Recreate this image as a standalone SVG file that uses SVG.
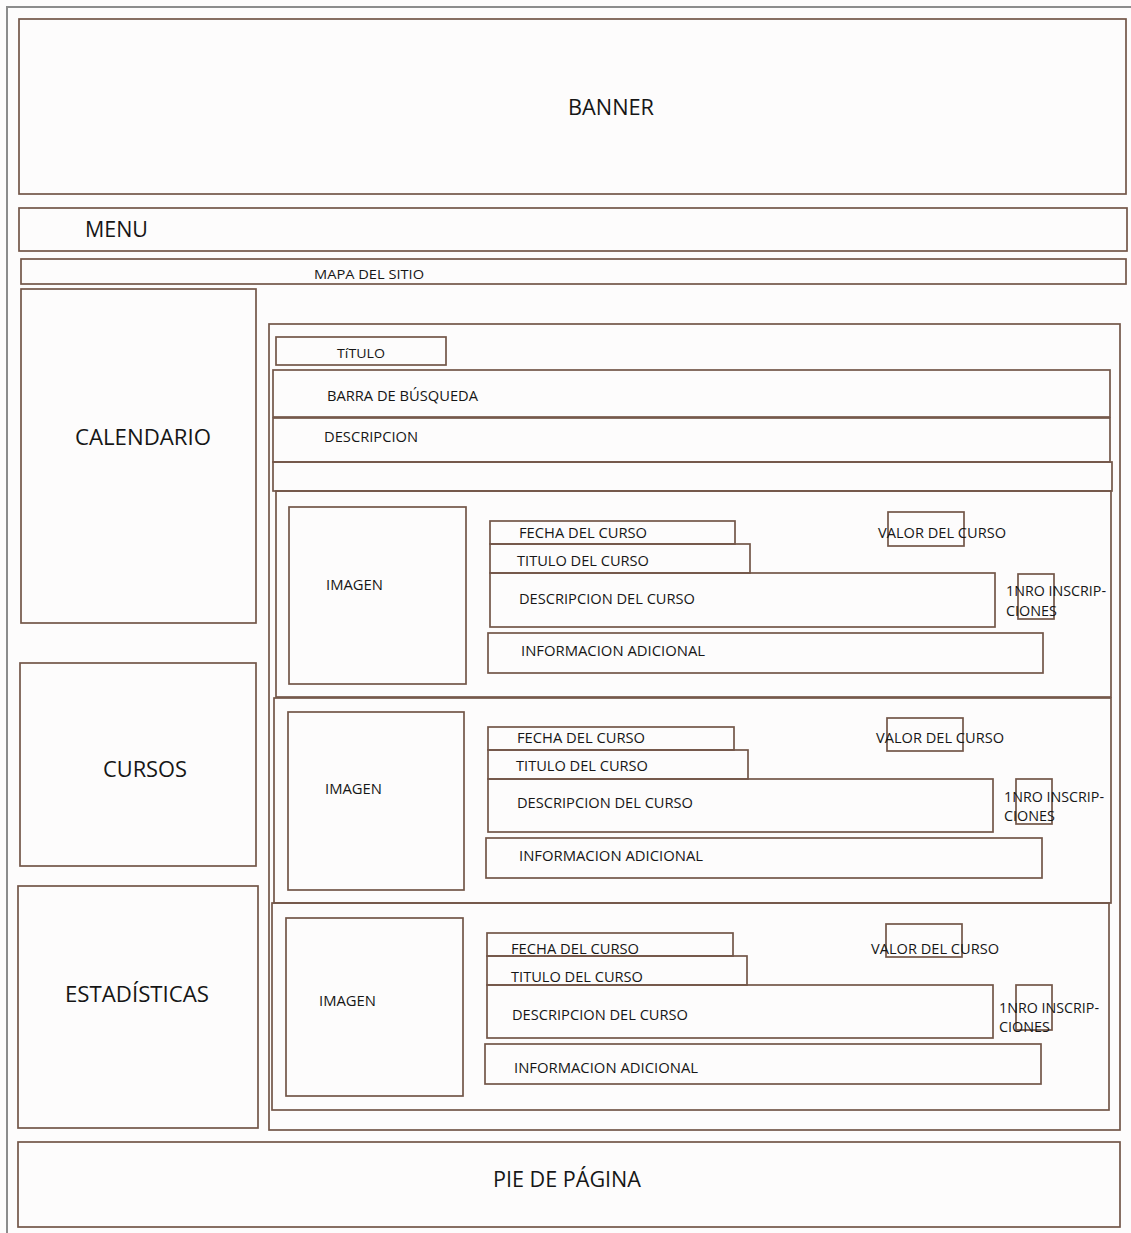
<svg xmlns="http://www.w3.org/2000/svg" width="1131" height="1233" viewBox="0 0 1131 1233">
<style>
.bg{fill:#fdfcfc}
.b{fill:none;stroke:#735648;stroke-width:1.7}
.t{font-family:"Open Sans","Liberation Sans",sans-serif;fill:#161616;font-size:14px}
.L{font-size:21px}
.S{font-size:13px}
</style>
<rect class="bg" x="0" y="0" width="1131" height="1233"/>
<path d="M7,1233 V7 H1131" fill="none" stroke="#8c8c8c" stroke-width="2"/>
<g id="banner"><rect class="b" x="19" y="19" width="1107" height="175"/><text class="t L" x="568" y="115" textLength="86" lengthAdjust="spacingAndGlyphs">BANNER</text></g>
<g id="menu"><rect class="b" x="19" y="208" width="1108" height="43"/><text class="t L" x="85" y="237" textLength="63" lengthAdjust="spacingAndGlyphs">MENU</text></g>
<g id="mapa"><rect class="b" x="21" y="259" width="1105" height="25"/><text class="t S" x="314" y="279" textLength="110" lengthAdjust="spacingAndGlyphs">MAPA DEL SITIO</text></g>
<g id="calendario"><rect class="b" x="21" y="289" width="235" height="334"/><text class="t L" x="75" y="445" textLength="136" lengthAdjust="spacingAndGlyphs">CALENDARIO</text></g>
<g id="cursos"><rect class="b" x="20" y="663" width="236" height="203"/><text class="t L" x="103" y="777" textLength="84" lengthAdjust="spacingAndGlyphs">CURSOS</text></g>
<g id="estadisticas"><rect class="b" x="18" y="886" width="240" height="242"/><text class="t L" x="65" y="1002" textLength="144" lengthAdjust="spacingAndGlyphs">ESTADÍSTICAS</text></g>
<g id="pie"><rect class="b" x="18" y="1142" width="1102" height="85"/><text class="t L" x="493" y="1187" textLength="148" lengthAdjust="spacingAndGlyphs">PIE DE PÁGINA</text></g>
<g id="contenido"><rect class="b" x="269" y="324" width="851" height="806"/></g>
<g id="titulo"><rect class="b" x="276" y="337" width="170" height="28"/><text class="t S" x="337" y="358" textLength="48" lengthAdjust="spacingAndGlyphs">TíTULO</text></g>
<g id="barra"><rect class="b" x="273" y="370" width="837" height="47"/><text class="t" x="327" y="401" textLength="151" lengthAdjust="spacingAndGlyphs">BARRA DE BÚSQUEDA</text></g>
<g id="descripcion"><rect class="b" x="273" y="418" width="837" height="44"/><text class="t" x="324" y="442" textLength="94" lengthAdjust="spacingAndGlyphs">DESCRIPCION</text></g>
<g id="vacio"><rect class="b" x="273" y="462" width="839" height="29"/></g>

<g id="curso1">
<rect class="b" x="276" y="491" width="835" height="206"/>
<rect class="b" x="289" y="507" width="177" height="177"/>
<text class="t" x="326" y="590" textLength="57" lengthAdjust="spacingAndGlyphs">IMAGEN</text>
<rect class="b" x="490" y="521" width="245" height="23"/>
<text class="t" x="519" y="538" textLength="128" lengthAdjust="spacingAndGlyphs">FECHA DEL CURSO</text>
<rect class="b" x="490" y="544" width="260" height="29"/>
<text class="t" x="517" y="566" textLength="132" lengthAdjust="spacingAndGlyphs">TITULO DEL CURSO</text>
<rect class="b" x="490" y="573" width="505" height="54"/>
<text class="t" x="519" y="604" textLength="176" lengthAdjust="spacingAndGlyphs">DESCRIPCION DEL CURSO</text>
<rect class="b" x="488" y="633" width="555" height="40"/>
<text class="t" x="521" y="656" textLength="184" lengthAdjust="spacingAndGlyphs">INFORMACION ADICIONAL</text>
<rect class="b" x="888" y="512" width="76" height="34"/>
<text class="t" x="878" y="538" textLength="128" lengthAdjust="spacingAndGlyphs">VALOR DEL CURSO</text>
<rect class="b" x="1018" y="574" width="36" height="45"/>
<text class="t" x="1006" y="596" textLength="100" lengthAdjust="spacingAndGlyphs">1NRO INSCRIP-</text>
<text class="t" x="1006" y="616" textLength="51" lengthAdjust="spacingAndGlyphs">CIONES</text>
</g>

<g id="curso2">
<rect class="b" x="274" y="698" width="837" height="205"/>
<rect class="b" x="288" y="712" width="176" height="178"/>
<text class="t" x="325" y="794" textLength="57" lengthAdjust="spacingAndGlyphs">IMAGEN</text>
<rect class="b" x="488" y="727" width="246" height="23"/>
<text class="t" x="517" y="743" textLength="128" lengthAdjust="spacingAndGlyphs">FECHA DEL CURSO</text>
<rect class="b" x="488" y="750" width="260" height="29"/>
<text class="t" x="516" y="771" textLength="132" lengthAdjust="spacingAndGlyphs">TITULO DEL CURSO</text>
<rect class="b" x="488" y="779" width="505" height="53"/>
<text class="t" x="517" y="808" textLength="176" lengthAdjust="spacingAndGlyphs">DESCRIPCION DEL CURSO</text>
<rect class="b" x="486" y="838" width="556" height="40"/>
<text class="t" x="519" y="861" textLength="184" lengthAdjust="spacingAndGlyphs">INFORMACION ADICIONAL</text>
<rect class="b" x="887" y="718" width="76" height="33"/>
<text class="t" x="876" y="743" textLength="128" lengthAdjust="spacingAndGlyphs">VALOR DEL CURSO</text>
<rect class="b" x="1016" y="779" width="36" height="45"/>
<text class="t" x="1004" y="802" textLength="100" lengthAdjust="spacingAndGlyphs">1NRO INSCRIP-</text>
<text class="t" x="1004" y="821" textLength="51" lengthAdjust="spacingAndGlyphs">CIONES</text>
</g>

<g id="curso3">
<rect class="b" x="272" y="903" width="837" height="207"/>
<rect class="b" x="286" y="918" width="177" height="178"/>
<text class="t" x="319" y="1006" textLength="57" lengthAdjust="spacingAndGlyphs">IMAGEN</text>
<rect class="b" x="487" y="933" width="246" height="23"/>
<text class="t" x="511" y="954" textLength="128" lengthAdjust="spacingAndGlyphs">FECHA DEL CURSO</text>
<rect class="b" x="487" y="956" width="260" height="29"/>
<text class="t" x="511" y="982" textLength="132" lengthAdjust="spacingAndGlyphs">TITULO DEL CURSO</text>
<rect class="b" x="487" y="985" width="506" height="53"/>
<text class="t" x="512" y="1020" textLength="176" lengthAdjust="spacingAndGlyphs">DESCRIPCION DEL CURSO</text>
<rect class="b" x="485" y="1044" width="556" height="40"/>
<text class="t" x="514" y="1073" textLength="184" lengthAdjust="spacingAndGlyphs">INFORMACION ADICIONAL</text>
<rect class="b" x="886" y="924" width="76" height="33"/>
<text class="t" x="871" y="954" textLength="128" lengthAdjust="spacingAndGlyphs">VALOR DEL CURSO</text>
<rect class="b" x="1016" y="985" width="36" height="45"/>
<text class="t" x="999" y="1013" textLength="100" lengthAdjust="spacingAndGlyphs">1NRO INSCRIP-</text>
<text class="t" x="999" y="1032" textLength="51" lengthAdjust="spacingAndGlyphs">CIONES</text>
</g>
<g id="connectors"/>
</svg>
